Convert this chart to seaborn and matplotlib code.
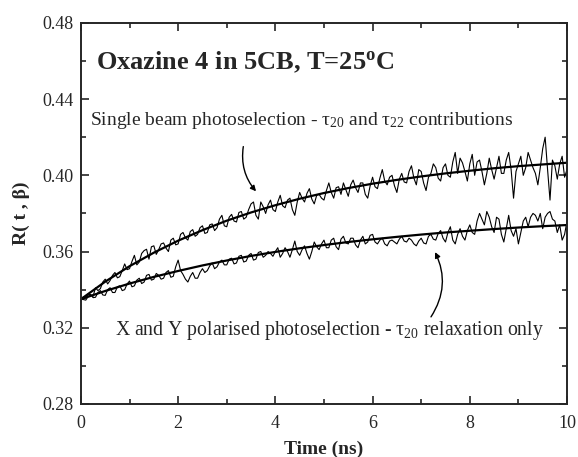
import numpy as np
import pandas as pd
import seaborn as sns
import matplotlib.pyplot as plt
from matplotlib.ticker import MultipleLocator

# data (time step 0.05 ns)
t_data = np.round(np.arange(0, 10.001, 0.05), 2)
r_single = [
    0.3340, 0.3362, 0.3355, 0.3378, 0.3372, 0.3365, 0.3410, 0.3395, 0.3405, 0.3440,
    0.3455, 0.3430, 0.3448, 0.3475, 0.3490, 0.3462, 0.3468, 0.3500, 0.3535, 0.3505,
    0.3510, 0.3548, 0.3580, 0.3530, 0.3545, 0.3590, 0.3605, 0.3612, 0.3560, 0.3625,
    0.3630, 0.3585, 0.3610, 0.3640, 0.3645, 0.3618, 0.3600, 0.3660, 0.3670, 0.3635,
    0.3640, 0.3690, 0.3700, 0.3672, 0.3660, 0.3705, 0.3715, 0.3680, 0.3690, 0.3725,
    0.3735, 0.3695, 0.3700, 0.3740, 0.3745, 0.3710, 0.3725, 0.3770, 0.3790, 0.3735,
    0.3730, 0.3780, 0.3795, 0.3760, 0.3755, 0.3805, 0.3810, 0.3770, 0.3780, 0.3820,
    0.3850, 0.3860, 0.3790, 0.3770, 0.3860, 0.3835, 0.3800, 0.3845, 0.3870, 0.3820,
    0.3810, 0.3860, 0.3895, 0.3840, 0.3830, 0.3870, 0.3880, 0.3820, 0.3790, 0.3860,
    0.3910, 0.3880, 0.3860, 0.3905, 0.3930, 0.3875, 0.3850, 0.3895, 0.3900, 0.3880,
    0.3870, 0.3920, 0.3960, 0.3910, 0.3880, 0.3935, 0.3940, 0.3900, 0.3960, 0.3925,
    0.3890, 0.3950, 0.3975, 0.3935, 0.3910, 0.3960, 0.3960, 0.3900, 0.3880, 0.3945,
    0.3990, 0.3940, 0.3930, 0.3985, 0.4030, 0.3970, 0.3950, 0.3990, 0.4000, 0.3945,
    0.3910, 0.3980, 0.4010, 0.3965, 0.3960, 0.4020, 0.4050, 0.3985, 0.3950, 0.4030,
    0.4020, 0.3960, 0.3920, 0.3990, 0.4010, 0.4060, 0.4040, 0.3985, 0.3970, 0.4040,
    0.4060, 0.4000, 0.3990, 0.4070, 0.4120, 0.4010, 0.4090, 0.4065, 0.4020, 0.3970,
    0.4060, 0.4110, 0.4000, 0.4070, 0.4080, 0.4020, 0.3950, 0.4010, 0.4090, 0.4030,
    0.3980, 0.4040, 0.4100, 0.4010, 0.4010, 0.4080, 0.4120, 0.4030, 0.3880, 0.4020,
    0.4060, 0.4100, 0.4000, 0.4040, 0.4120, 0.4080, 0.4040, 0.4010, 0.3950, 0.4040,
    0.4140, 0.4200, 0.4030, 0.3870, 0.4080, 0.4050, 0.3980, 0.4060, 0.4100, 0.3990,
    0.4030]
r_xy = [
    0.3360, 0.3348, 0.3345, 0.3365, 0.3375, 0.3358, 0.3360, 0.3385, 0.3395, 0.3372,
    0.3370, 0.3400, 0.3410, 0.3385, 0.3385, 0.3415, 0.3420, 0.3395, 0.3400, 0.3430,
    0.3445, 0.3415, 0.3420, 0.3450, 0.3460, 0.3432, 0.3440, 0.3475, 0.3480, 0.3450,
    0.3455, 0.3485, 0.3475, 0.3455, 0.3460, 0.3490, 0.3500, 0.3465, 0.3470, 0.3520,
    0.3555, 0.3500, 0.3480, 0.3455, 0.3440, 0.3470, 0.3490, 0.3460, 0.3460, 0.3490,
    0.3510, 0.3490, 0.3500, 0.3525, 0.3540, 0.3510, 0.3520, 0.3545, 0.3555, 0.3530,
    0.3530, 0.3560, 0.3565, 0.3535, 0.3540, 0.3575, 0.3580, 0.3545, 0.3550, 0.3580,
    0.3590, 0.3555, 0.3560, 0.3595, 0.3600, 0.3570, 0.3580, 0.3600, 0.3590, 0.3575,
    0.3600, 0.3620, 0.3570, 0.3590, 0.3620, 0.3600, 0.3570, 0.3610, 0.3655, 0.3600,
    0.3580, 0.3610, 0.3630, 0.3590, 0.3560, 0.3600, 0.3650, 0.3625, 0.3610, 0.3640,
    0.3660, 0.3620, 0.3620, 0.3660, 0.3670, 0.3625, 0.3610, 0.3665, 0.3680, 0.3645,
    0.3640, 0.3670, 0.3670, 0.3635, 0.3620, 0.3660, 0.3680, 0.3640, 0.3650, 0.3685,
    0.3690, 0.3650, 0.3640, 0.3660, 0.3670, 0.3640, 0.3630, 0.3655, 0.3660, 0.3650,
    0.3640, 0.3665, 0.3680, 0.3655, 0.3650, 0.3670, 0.3660, 0.3640, 0.3630, 0.3655,
    0.3670, 0.3645, 0.3640, 0.3680, 0.3690, 0.3665, 0.3660, 0.3695, 0.3710, 0.3670,
    0.3650, 0.3700, 0.3730, 0.3660, 0.3640, 0.3690, 0.3720, 0.3680, 0.3660, 0.3710,
    0.3740, 0.3700, 0.3690, 0.3760, 0.3800, 0.3770, 0.3740, 0.3810, 0.3780, 0.3730,
    0.3700, 0.3780, 0.3770, 0.3690, 0.3650, 0.3720, 0.3790, 0.3710, 0.3680, 0.3720,
    0.3640, 0.3700, 0.3760, 0.3780, 0.3730, 0.3780, 0.3800, 0.3790, 0.3760, 0.3800,
    0.3720, 0.3780, 0.3800, 0.3810, 0.3770, 0.3760, 0.3700, 0.3740, 0.3660, 0.3690,
    0.3760]

t_fit = np.round(np.arange(0, 10.01, 0.5), 2)
fit_single = [0.3350, 0.3442, 0.3523, 0.3594, 0.3657, 0.3712, 0.3762, 0.3805, 0.3843, 0.3877,
              0.3907, 0.3933, 0.3956, 0.3976, 0.3994, 0.4010, 0.4024, 0.4037, 0.4048, 0.4057,
              0.4066]
fit_xy = [0.3350, 0.3393, 0.3432, 0.3467, 0.3498, 0.3527, 0.3553, 0.3577, 0.3598, 0.3617,
          0.3634, 0.3650, 0.3664, 0.3677, 0.3689, 0.3700, 0.3709, 0.3718, 0.3726, 0.3733,
          0.3739]

df_data = pd.DataFrame({"t": t_data, "single": r_single, "xy": r_xy})
df_fit = pd.DataFrame({"t": t_fit, "single": fit_single, "xy": fit_xy})

sns.set_style("ticks")
plt.rcParams['font.family'] = ['Liberation Serif', 'DejaVu Serif']
plt.rcParams['mathtext.fontset'] = 'custom'
plt.rcParams['mathtext.rm'] = 'Liberation Serif'
plt.rcParams['mathtext.it'] = 'Liberation Serif:italic'
plt.rcParams['mathtext.bf'] = 'Liberation Serif:bold'

fig = plt.figure(figsize=(5.78, 4.57), dpi=100)
ax = fig.add_axes([0.140, 0.116, 0.841, 0.834])

sns.lineplot(data=df_data, x="t", y="single", ax=ax, color="black", linewidth=0.8)
sns.lineplot(data=df_data, x="t", y="xy", ax=ax, color="black", linewidth=0.8)
sns.lineplot(data=df_fit, x="t", y="single", ax=ax, color="black", linewidth=1.6)
sns.lineplot(data=df_fit, x="t", y="xy", ax=ax, color="black", linewidth=1.6)

ax.set_xlim(0, 10)
ax.set_ylim(0.28, 0.48)
ax.xaxis.set_major_locator(MultipleLocator(2))
ax.xaxis.set_minor_locator(MultipleLocator(1))
ax.yaxis.set_major_locator(MultipleLocator(0.04))
ax.yaxis.set_minor_locator(MultipleLocator(0.02))
ax.yaxis.set_major_formatter(plt.FormatStrFormatter("%.2f"))
ax.tick_params(which="both", direction="in", top=True, right=True, labelsize=13, width=1.2)
ax.tick_params(which="major", length=6, pad=5)
ax.tick_params(axis="x", which="major", pad=8)
ax.tick_params(which="minor", length=3.5)
for s in ax.spines.values():
    s.set_linewidth(1.4)

ax.set_xlabel("Time (ns)", fontsize=14, fontweight="bold", labelpad=6)
ax.set_ylabel("R( t , β)", fontsize=14, fontweight="bold", labelpad=9)

ax.text(0.31, 0.4595, r"Oxazine 4 in 5CB, T=25$^{\mathbf{o}}$C", fontsize=19,
        fontweight="bold", va="center", ha="left")
ax.text(0.19, 0.4285, "Single beam photoselection - τ$_{20}$ and τ$_{22}$ contributions",
        fontsize=14, va="center", ha="left")
ax.text(0.70, 0.3185, "X and Y polarised photoselection - τ$_{20}$ relaxation only",
        fontsize=14.2, va="center", ha="left")

ax.annotate("", xy=(3.64, 0.3905), xytext=(3.35, 0.4165),
            arrowprops=dict(arrowstyle="-|>", color="black", lw=1.0, mutation_scale=8,
                            connectionstyle="arc3,rad=0.25"))
ax.annotate("", xy=(7.26, 0.361), xytext=(7.17, 0.3245),
            arrowprops=dict(arrowstyle="-|>", color="black", lw=1.0, mutation_scale=8,
                            connectionstyle="arc3,rad=0.3"))

fig.savefig("out.png", dpi=100)
